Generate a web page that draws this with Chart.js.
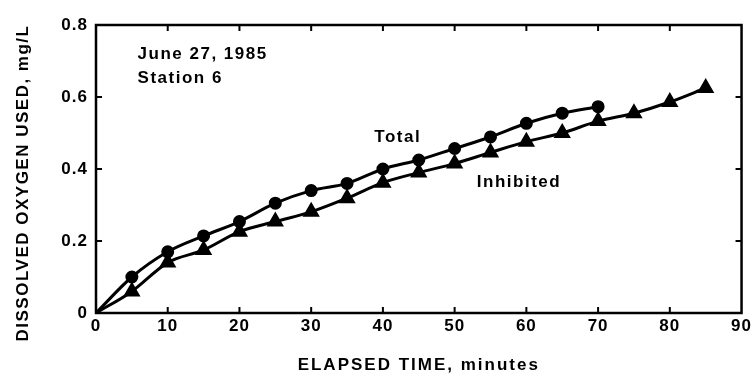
<!DOCTYPE html>
<html>
<head>
<meta charset="utf-8">
<script src="https://cdn.jsdelivr.net/npm/chart.js@4/dist/chart.umd.min.js"></script>
<style>
  html, body { margin: 0; padding: 0; background: #fff; }
  #wrap { width: 755px; height: 378px; }
</style>
</head>
<body>
<div id="wrap"><canvas id="oxygen-chart" width="755" height="378"></canvas></div>
<script>
// elapsed time, minutes
const minutes = [0, 5, 10, 15, 20, 25, 30, 35, 40, 45, 50, 55, 60, 65, 70, 75, 80, 85];
// dissolved oxygen used, mg/L
const total = [0, 0.10, 0.17, 0.214, 0.254, 0.305, 0.34, 0.36, 0.40, 0.425, 0.457, 0.489, 0.527, 0.555, 0.573, null, null, null];
const inhibited = [0, 0.06, 0.14, 0.175, 0.226, 0.254, 0.281, 0.319, 0.362, 0.39, 0.415, 0.446, 0.476, 0.50, 0.533, 0.555, 0.586, 0.625];
const xTicks = [0, 10, 20, 30, 40, 50, 60, 70, 80, 90];
const yTicks = [0, 0.2, 0.4, 0.6, 0.8];

const fontFamily = "'Liberation Sans', Arial, sans-serif";

function toPoints(values) {
    let pts = [];
    for (let i = 0; i < minutes.length; i++) {
        if (values[i] !== null) pts.push({x: minutes[i], y: values[i]});
    }
    return pts;
}

// wide lettering like the scanned figure
const spacingPlugin = {
    id: 'spacing',
    beforeUpdate(chart) { chart.ctx.letterSpacing = '1px'; },
    beforeDraw(chart) { chart.ctx.letterSpacing = '1px'; }
};

// box with inward ticks on all four sides, titles and text notes
const framePlugin = {
    id: 'frame',
    afterDraw(chart) {
        const ctx = chart.ctx;
        const a = chart.chartArea;
        const xs = chart.scales.x;
        const ys = chart.scales.y;
        ctx.save();
        ctx.strokeStyle = '#000';
        ctx.lineWidth = 2.5;
        ctx.strokeRect(a.left, a.top, a.right - a.left, a.bottom - a.top);
        ctx.lineWidth = 2;
        xTicks.slice(1, -1).forEach(function(v) {
            const px = xs.getPixelForValue(v);
            ctx.beginPath();
            ctx.moveTo(px, a.bottom); ctx.lineTo(px, a.bottom - 6);
            ctx.moveTo(px, a.top); ctx.lineTo(px, a.top + 6);
            ctx.stroke();
        });
        yTicks.slice(1, -1).forEach(function(v) {
            const py = ys.getPixelForValue(v);
            ctx.beginPath();
            ctx.moveTo(a.left, py); ctx.lineTo(a.left + 6, py);
            ctx.moveTo(a.right, py); ctx.lineTo(a.right - 6, py);
            ctx.stroke();
        });

        ctx.fillStyle = '#000';
        ctx.textBaseline = 'middle';
        ctx.letterSpacing = '1.5px';
        ctx.font = 'bold 17px ' + fontFamily;
        ctx.textAlign = 'left';
        ctx.fillText('June 27, 1985', xs.getPixelForValue(5.8), ys.getPixelForValue(0.718));
        ctx.fillText('Station 6', xs.getPixelForValue(5.8), ys.getPixelForValue(0.652));
        ctx.fillText('Total', xs.getPixelForValue(38.8), ys.getPixelForValue(0.488));
        ctx.fillText('Inhibited', xs.getPixelForValue(53.1), ys.getPixelForValue(0.363));

        // axis titles
        ctx.letterSpacing = '2px';
        ctx.font = 'bold 17px ' + fontFamily;
        ctx.textAlign = 'center';
        ctx.fillText('ELAPSED TIME, minutes', (a.left + a.right) / 2, 365);
        ctx.letterSpacing = '1.5px';
        ctx.translate(23, 183);
        ctx.rotate(-Math.PI / 2);
        ctx.fillText('DISSOLVED OXYGEN USED, mg/L', 0, 0);
        ctx.restore();
    }
};

new Chart('oxygen-chart', {
    type: 'line',
    data: {
        datasets: [{
            label: 'Total',
            data: toPoints(total),
            borderColor: '#000',
            backgroundColor: '#000',
            borderWidth: 3,
            pointStyle: 'circle',
            pointRadius: function(c) { return c.dataIndex === 0 ? 0 : 5; },
            tension: 0.4,
            cubicInterpolationMode: 'monotone'
        }, {
            label: 'Inhibited',
            data: toPoints(inhibited),
            borderColor: '#000',
            backgroundColor: '#000',
            borderWidth: 3,
            pointStyle: 'triangle',
            pointRadius: function(c) { return c.dataIndex === 0 ? 0 : 7; },
            tension: 0.4,
            cubicInterpolationMode: 'monotone'
        }]
    },
    options: {
        responsive: false,
        animation: false,
        layout: { padding: { top: 25, right: 13, left: 0, bottom: 0 } },
        plugins: {
            legend: { display: false },
            tooltip: { enabled: false }
        },
        scales: {
            x: {
                type: 'linear',
                min: 0,
                max: 90,
                afterBuildTicks: function(s) { s.ticks = xTicks.map(function(v) { return {value: v}; }); },
                afterFit: function(s) { s.height = 65; },
                grid: { display: false, drawTicks: false },
                border: { display: false },
                ticks: {
                    color: '#000',
                    padding: 3,
                    maxRotation: 0,
                    font: { family: fontFamily, size: 17, weight: 'bold' }
                }
            },
            y: {
                min: 0,
                max: 0.8,
                afterBuildTicks: function(s) { s.ticks = yTicks.map(function(v) { return {value: v}; }); },
                afterFit: function(s) { s.width = 96; },
                grid: { display: false, drawTicks: false },
                border: { display: false },
                ticks: {
                    color: '#000',
                    padding: 8,
                    font: { family: fontFamily, size: 17, weight: 'bold' },
                    callback: function(v) { return v === 0 ? '0' : v.toFixed(1); }
                }
            }
        }
    },
    plugins: [spacingPlugin, framePlugin]
});
</script>
</body>
</html>
